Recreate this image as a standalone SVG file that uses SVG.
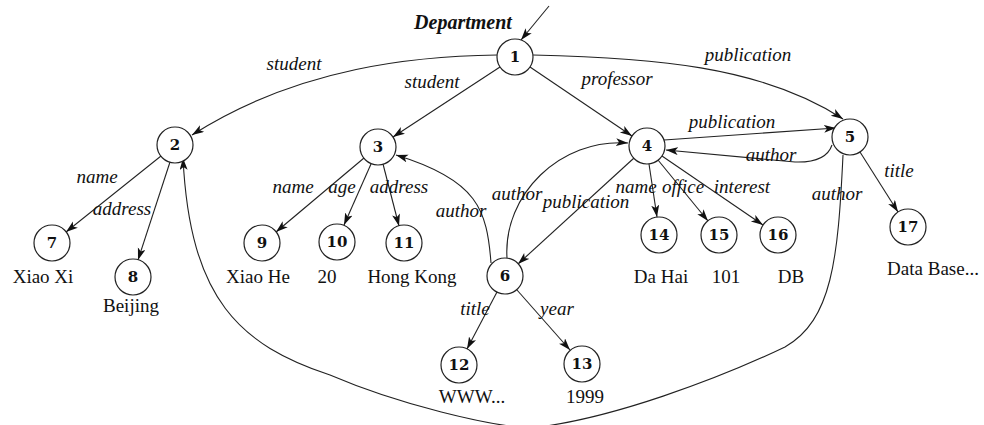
<svg xmlns="http://www.w3.org/2000/svg" width="984" height="425" viewBox="0 0 984 425">
<style>
.n circle{fill:#fff;stroke:#222;stroke-width:1.2}
.n text.id{font-family:"DejaVu Serif",serif;font-weight:bold;font-size:15px;text-anchor:middle;fill:#111}
.v{font-family:"Liberation Serif",serif;font-size:19px;text-anchor:middle;fill:#111}
.e path{fill:none;stroke:#222;stroke-width:1.1;marker-end:url(#ah)}
.l{font-family:"Liberation Serif",serif;font-style:italic;font-size:19px;text-anchor:middle;fill:#111}
.t{font-family:"Liberation Serif",serif;font-style:italic;font-weight:bold;font-size:20px;text-anchor:middle;fill:#111}
</style>
<defs>
<marker id="ah" markerUnits="userSpaceOnUse" markerWidth="14" markerHeight="10" refX="12" refY="4" orient="auto">
<path d="M0,0 L12,4 L0,8 L3,4 Z" fill="#111"/>
</marker>
</defs>
<rect width="984" height="425" fill="#fff"/>
<g id="connectors" class="e">
<path d="M549,6 L521,40"/>
<path d="M497,55 C420,56 300,66 192,135"/>
<path d="M500,67 L393,137"/>
<path d="M530,67 L632,136"/>
<path d="M533,55 C650,58 760,65 843,119"/>
<path d="M664,140 L836,128"/>
<path d="M832,145 Q826,163 795,162 L666,150"/>
<path d="M161,156 L66,232"/>
<path d="M170,162 L138,260"/>
<path d="M364,158 L276,232"/>
<path d="M371,164 L344,225"/>
<path d="M383,164 L399,226"/>
<path d="M649,164 L657,217"/>
<path d="M658,160 L708,221"/>
<path d="M662,156 L763,225"/>
<path d="M634,158 L518,264"/>
<path d="M507,258 C503,195 560,138 628,143"/>
<path d="M491,263 C487,210 478,180 396,155"/>
<path d="M860,152 L898,212"/>
<path d="M497,292 L467,349"/>
<path d="M517,290 L570,350"/>
<path d="M843,155 C838,260 832,320 785,347 C720,378 610,420 530,428 C490,426 400,405 330,375 C240,345 190,300 183,158"/>
</g>
<g id="labels">
<text class="t" x="463" y="29">Department</text>
<text class="l" x="294" y="70">student</text>
<text class="l" x="432" y="88">student</text>
<text class="l" x="617" y="85">professor</text>
<text class="l" x="748" y="61">publication</text>
<text class="l" x="732" y="128">publication</text>
<text class="l" x="771" y="161">author</text>
<text class="l" x="899" y="177">title</text>
<text class="l" x="837" y="200">author</text>
<text class="l" x="683" y="193">office</text>
<text class="l" x="742" y="193">interest</text>
<text class="l" x="636" y="193">name</text>
<text class="l" x="517" y="200">author</text>
<text class="l" x="586" y="208">publication</text>
<text class="l" x="461" y="217">author</text>
<text class="l" x="97" y="183">name</text>
<text class="l" x="122" y="215">address</text>
<text class="l" x="293" y="193">name</text>
<text class="l" x="342" y="193">age</text>
<text class="l" x="399" y="193">address</text>
<text class="l" x="475" y="315">title</text>
<text class="l" x="557" y="315">year</text>
</g>
<g id="n1" class="n"><circle cx="515" cy="57" r="18"/><text class="id" x="515" y="62">1</text></g>
<g id="n2" class="n"><circle cx="175" cy="145" r="18"/><text class="id" x="175" y="150">2</text></g>
<g id="n3" class="n"><circle cx="378" cy="147" r="18"/><text class="id" x="378" y="152">3</text></g>
<g id="n4" class="n"><circle cx="647" cy="146" r="18"/><text class="id" x="647" y="151">4</text></g>
<g id="n5" class="n"><circle cx="850" cy="137" r="18"/><text class="id" x="850" y="142">5</text></g>
<g id="n6" class="n"><circle cx="505" cy="276" r="18"/><text class="id" x="505" y="281">6</text></g>
<g id="n7" class="n"><circle cx="52" cy="243" r="18"/><text class="id" x="52" y="248">7</text><text class="v" x="43" y="283">Xiao Xi</text></g>
<g id="n8" class="n"><circle cx="133" cy="277" r="18"/><text class="id" x="133" y="282">8</text><text class="v" x="131" y="312">Beijing</text></g>
<g id="n9" class="n"><circle cx="262" cy="243" r="18"/><text class="id" x="262" y="248">9</text><text class="v" x="258" y="283">Xiao He</text></g>
<g id="n10" class="n"><circle cx="337" cy="242" r="18"/><text class="id" x="337" y="247">10</text><text class="v" x="327" y="283">20</text></g>
<g id="n11" class="n"><circle cx="404" cy="243" r="18"/><text class="id" x="404" y="248">11</text><text class="v" x="412" y="283">Hong Kong</text></g>
<g id="n12" class="n"><circle cx="459" cy="365" r="18"/><text class="id" x="459" y="370">12</text><text class="v" x="472" y="403">WWW...</text></g>
<g id="n13" class="n"><circle cx="582" cy="364" r="18"/><text class="id" x="582" y="369">13</text><text class="v" x="585" y="403">1999</text></g>
<g id="n14" class="n"><circle cx="659" cy="235" r="18"/><text class="id" x="659" y="240">14</text><text class="v" x="661" y="283">Da Hai</text></g>
<g id="n15" class="n"><circle cx="719" cy="235" r="18"/><text class="id" x="719" y="240">15</text><text class="v" x="726" y="283">101</text></g>
<g id="n16" class="n"><circle cx="778" cy="235" r="18"/><text class="id" x="778" y="240">16</text><text class="v" x="791" y="283">DB</text></g>
<g id="n17" class="n"><circle cx="908" cy="227" r="18"/><text class="id" x="908" y="232">17</text><text class="v" x="933" y="275">Data Base...</text></g>
</svg>
